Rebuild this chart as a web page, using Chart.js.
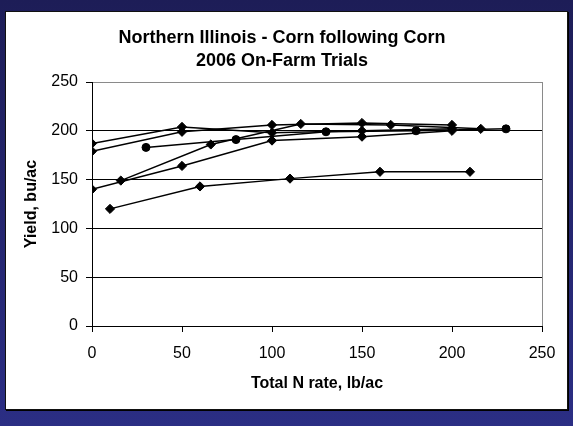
<!DOCTYPE html>
<html>
<head>
<meta charset="utf-8">
<script src="https://cdn.jsdelivr.net/npm/chart.js@4.4.0/dist/chart.umd.min.js"></script>
<style>
  html, body { margin: 0; padding: 0; }
  body {
    width: 573px; height: 426px; position: relative; overflow: hidden;
    background: linear-gradient(#1d1d57 0%, #24256e 50%, #2b2e84 100%);
  }
  #panel {
    position: absolute; left: 5px; top: 11px; width: 561px; height: 397px;
    background: #fff; border: 1px solid #111; box-shadow: 1px 1px 0 #000;
  }
  #chart { position: absolute; left: 0; top: 0; }
</style>
</head>
<body>
<div id="panel"></div>
<canvas id="chart" width="573" height="426"></canvas>
<script>
// N rates (lb/ac) and yields (bu/ac) for each trial
const trial1Rates = [10, 60, 110, 160, 210];
const trial1Yield = [120, 143, 151, 158, 158];

const trial2Rates = [30, 80, 130, 180, 230];
const trial2Yield = [183, 191, 199, 200, 202];

const trial3Rates = [0, 50, 100, 150, 200];
const trial3Yield = [140, 164, 190, 194, 200];

const trial4Rates = [16, 66, 116, 166, 216];
const trial4Yield = [149, 186, 207, 206, 202];

const trial5Rates = [0, 50, 100, 150, 200];
const trial5Yield = [187, 204, 198, 200, 202];

const trial6Rates = [0, 50, 100, 150, 200];
const trial6Yield = [179, 199, 206, 208, 206];

const titleLines = ['Northern Illinois - Corn following Corn', '2006 On-Farm Trials'];
const xTitle = 'Total N rate, lb/ac';
const yTitle = 'Yield, bu/ac';

const FONT = "'Liberation Sans', Arial, sans-serif";

function series(rates, yields, marker) {
  return {
    data: rates.map((x, i) => ({ x: x, y: yields[i] })),
    showLine: true,
    borderColor: '#000',
    backgroundColor: '#000',
    borderWidth: 1.5,
    pointStyle: marker,
    pointRadius: marker === 'circle' ? 4 : 4.6,
    pointBorderWidth: 1,
    pointBorderColor: '#000',
    pointBackgroundColor: '#000',
  };
}

const datasets = [
  series(trial1Rates, trial1Yield, 'rectRot'),
  series(trial2Rates, trial2Yield, 'circle'),
  series(trial3Rates, trial3Yield, 'rectRot'),
  series(trial4Rates, trial4Yield, 'rectRot'),
  series(trial5Rates, trial5Yield, 'rectRot'),
  series(trial6Rates, trial6Yield, 'rectRot'),
];

new Chart(document.getElementById('chart'), {
  type: 'scatter',
  data: { datasets: datasets },
  options: {
    responsive: false,
    animation: false,
    layout: { padding: { top: 0, left: 22, right: 31, bottom: 33 } },
    plugins: {
      legend: { display: false },
      tooltip: { enabled: false },
      title: {
        display: true,
        text: titleLines,
        color: '#000',
        font: { family: FONT, size: 18, weight: 'bold', lineHeight: 1.25 },
        padding: { top: 27, bottom: 10 },
      },
    },
    scales: {
      x: {
        type: 'linear',
        min: 0,
        max: 250,
        afterFit: (s) => { s.height = 67; },
        ticks: { stepSize: 50, color: '#000', padding: 12, font: { family: FONT, size: 16 } },
        grid: {
          drawOnChartArea: true,
          color: (c) => (c.tick && c.tick.value === 250 ? '#8a8a8a' : 'rgba(0,0,0,0)'),
          tickColor: '#000',
          tickLength: 6,
          lineWidth: 1,
        },
        border: { color: '#000', width: 1 },
        title: {
          display: true, text: xTitle, color: '#000', padding: 0,
          font: { family: FONT, size: 16, weight: 'bold' },
        },
      },
      y: {
        min: 0,
        max: 250,
        afterFit: (s) => { s.width = 70; },
        ticks: { stepSize: 50, color: '#000', padding: 8, font: { family: FONT, size: 16 } },
        grid: {
          color: (c) => (c.tick && c.tick.value === 250 ? '#8a8a8a' : '#000'),
          tickColor: '#000',
          tickLength: 6,
          lineWidth: 1,
        },
        border: { color: '#000', width: 1 },
        title: {
          display: true, text: yTitle, color: '#000', padding: 0,
          font: { family: FONT, size: 16, weight: 'bold' },
        },
      },
    },
  },
});
</script>
</body>
</html>
